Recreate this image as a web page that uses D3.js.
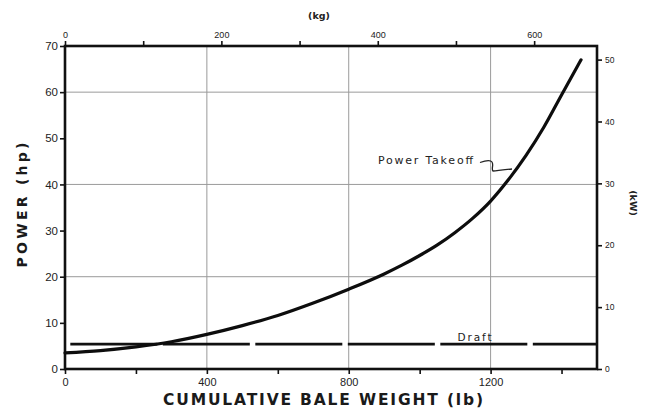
<!DOCTYPE html>
<html>
<head>
<meta charset="utf-8">
<script src="https://cdn.jsdelivr.net/npm/d3@7"></script>
<style>
  body { margin: 0; background: #fff; }
  svg { display: block; font-family: "DejaVu Sans", sans-serif; }
  .grid-line { stroke: #9a9a9a; stroke-width: 1; }
  .axis path, .axis line { stroke: #111; }
  .axis text { fill: #222; }
</style>
</head>
<body>
<svg id="chart" width="649" height="415"></svg>
<script>
// readings taken off the figure
const weightLb = [0, 100, 200, 300, 400, 500, 600, 700, 800, 900, 950, 1000, 1050, 1100, 1150, 1200, 1250, 1300, 1350, 1400, 1455];
const ptoHp    = [3.5, 4.0, 4.8, 5.9, 7.5, 9.4, 11.6, 14.3, 17.3, 20.6, 22.5, 24.6, 26.9, 29.6, 32.7, 36.4, 41.0, 46.3, 52.4, 59.4, 67.0];
const draftLb = [15, 1500];
const draftHp = [5.4, 5.4];

const lbTicks = [0, 200, 400, 600, 800, 1000, 1200, 1400];
const lbLabels = [0, 400, 800, 1200];
const kgTicks = [0, 100, 200, 300, 400, 500, 600];
const kgLabels = [0, 200, 400, 600];
const hpTicks = [0, 10, 20, 30, 40, 50, 60, 70];
const kwTicks = [0, 10, 20, 30, 40, 50];
const hpGrid = [20, 40, 60];
const lbGrid = [400, 800, 1200];

const LB_TO_KG = 0.45359;
const HP_TO_KW = 0.7457;

const svg = d3.select('#chart');
const plotL = 65, plotR = 597, plotT = 46, plotB = 369;

const x = d3.scaleLinear().domain([0, 1500]).range([plotL, plotR]);
const y = d3.scaleLinear().domain([0, 70]).range([plotB, plotT]);
const xKg = d3.scaleLinear().domain([0, 1500 * LB_TO_KG]).range([plotL, plotR]);
const yKw = d3.scaleLinear().domain([0, 70 * HP_TO_KW]).range([plotB, plotT]);

// grid
svg.append('g').selectAll('line').data(hpGrid).join('line')
    .classed('grid-line', true)
    .attr('x1', plotL).attr('x2', plotR)
    .attr('y1', d => y(d)).attr('y2', d => y(d));
svg.append('g').selectAll('line').data(lbGrid).join('line')
    .classed('grid-line', true)
    .attr('x1', d => x(d)).attr('x2', d => x(d))
    .attr('y1', plotT).attr('y2', plotB);

// axes
function styleAxis(g, size){
    g.classed('axis', true);
    g.select('.domain').remove();
    g.selectAll('.tick line').attr('stroke-width', 1.6);
    g.selectAll('.tick text').attr('font-size', size);
}

svg.append('g')
    .attr('transform', `translate(0, ${plotB})`)
    .call(d3.axisBottom(x).tickValues(lbTicks).tickSize(5).tickPadding(4)
        .tickFormat(d => lbLabels.includes(d) ? d : ''))
    .call(g => styleAxis(g, 11));

svg.append('g')
    .attr('transform', `translate(0, ${plotT})`)
    .call(d3.axisTop(xKg).tickValues(kgTicks).tickSize(5).tickPadding(3)
        .tickFormat(d => kgLabels.includes(d) ? d : ''))
    .call(g => styleAxis(g, 9));

svg.append('g')
    .attr('transform', `translate(${plotL}, 0)`)
    .call(d3.axisLeft(y).tickValues(hpTicks).tickSize(5).tickPadding(2))
    .call(g => styleAxis(g, 11.5));

svg.append('g')
    .attr('transform', `translate(${plotR}, 0)`)
    .call(d3.axisRight(yKw).tickValues(kwTicks).tickSize(5).tickPadding(3))
    .call(g => styleAxis(g, 8.5));

// frame
svg.append('rect')
    .attr('x', plotL).attr('y', plotT)
    .attr('width', plotR - plotL).attr('height', plotB - plotT)
    .attr('fill', 'none').attr('stroke', '#111').attr('stroke-width', 2.6);

// curves
const line = d3.line()
    .x(d => x(d[0]))
    .y(d => y(d[1]))
    .curve(d3.curveMonotoneX);

svg.append('path')
    .datum(d3.zip(draftLb, draftHp))
    .attr('d', line)
    .attr('fill', 'none').attr('stroke', '#111')
    .attr('stroke-width', 2.6)
    .attr('stroke-dasharray', '87,5.5');

svg.append('path')
    .datum(d3.zip(weightLb, ptoHp))
    .attr('d', line)
    .attr('fill', 'none').attr('stroke', '#0d0d0d')
    .attr('stroke-width', 3.2)
    .attr('stroke-linecap', 'round');

// labels
svg.append('text')
    .attr('x', 425.5).attr('y', 164)
    .attr('text-anchor', 'middle')
    .attr('font-size', 11)
    .attr('fill', '#222')
    .attr('textLength', 95).attr('lengthAdjust', 'spacing')
    .text('Power Takeoff');

svg.append('path')
    .attr('d', 'M480,162.5 C484,161 490,159 492,162 C494,165 491,169 493,171 C498,170.5 505,169.5 512,169')
    .attr('fill', 'none').attr('stroke', '#222').attr('stroke-width', 1.3);

svg.append('text')
    .attr('x', 474.5).attr('y', 341)
    .attr('text-anchor', 'middle')
    .attr('font-size', 10.5)
    .attr('fill', '#222')
    .attr('textLength', 34).attr('lengthAdjust', 'spacing')
    .text('Draft');

svg.append('text')
    .attr('x', 323).attr('y', 405)
    .attr('text-anchor', 'middle')
    .attr('font-size', 15.5)
    .attr('font-weight', 'bold')
    .attr('fill', '#1a1a1a')
    .attr('textLength', 320).attr('lengthAdjust', 'spacing')
    .text('CUMULATIVE BALE WEIGHT (lb)');

svg.append('text')
    .attr('transform', 'translate(27, 205) rotate(-90)')
    .attr('text-anchor', 'middle')
    .attr('font-size', 14)
    .attr('font-weight', 'bold')
    .attr('fill', '#1a1a1a')
    .attr('textLength', 125).attr('lengthAdjust', 'spacing')
    .text('POWER (hp)');

svg.append('text')
    .attr('x', 319).attr('y', 19)
    .attr('text-anchor', 'middle')
    .attr('font-size', 9.5)
    .attr('font-weight', 'bold')
    .attr('fill', '#222')
    .text('(kg)');

svg.append('text')
    .attr('transform', 'translate(630, 203) rotate(90)')
    .attr('text-anchor', 'middle')
    .attr('font-size', 9.5)
    .attr('font-weight', 'bold')
    .attr('fill', '#222')
    .text('(kW)');
</script>
</body>
</html>
